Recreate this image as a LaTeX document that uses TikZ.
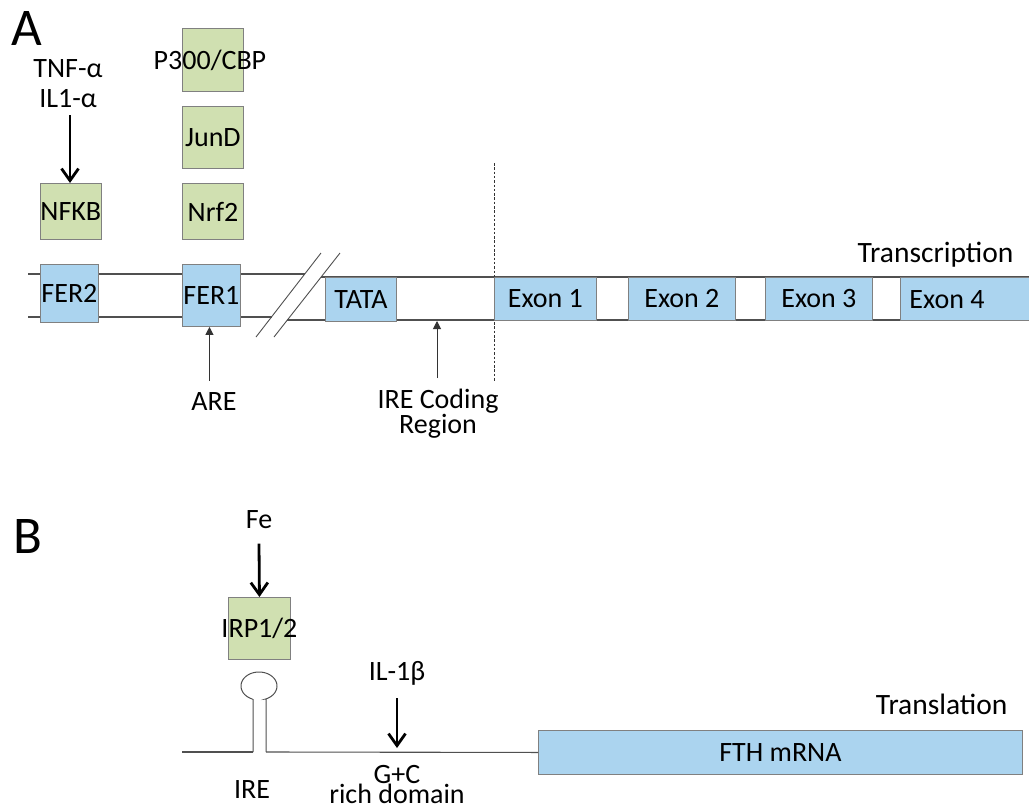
\documentclass[tikz,border=0pt]{standalone}
\usepackage{fontspec}
\setmainfont{Carlito}
\usetikzlibrary{arrows.meta}
\definecolor{boxblue}{HTML}{ABD4EF}
\definecolor{boxgreen}{HTML}{D0E0B1}
\definecolor{edgegray}{HTML}{808080}
\definecolor{linegray}{HTML}{505050}
\begin{document}
\begin{tikzpicture}[x=1pt,y=-1pt,
  every node/.style={font=\fontsize{28}{30}\selectfont, text=black},
  bluebox/.style={draw=edgegray, fill=boxblue, line width=0.9pt, inner sep=0pt, anchor=north west},
  greenbox/.style={draw=edgegray, fill=boxgreen, line width=0.9pt, inner sep=0pt, anchor=north west},
  strand/.style={draw=linegray, line width=1.1pt},
  bigarrow/.style={draw=black, line width=2.8pt, -{Straight Barb[length=12pt,width=17pt]}},
  thinarrow/.style={draw=black!80, line width=1pt, -{Triangle[length=8pt,width=8pt]}},
  panel/.style={font=\fontsize{53}{53}\selectfont, anchor=base west, inner sep=0pt},
  sidelabel/.style={font=\fontsize{29.5}{30}\selectfont, anchor=base east}
]
\clip (0,0) rectangle (1029,807);
\fill[white] (0,0) rectangle (1029,807);

% ---------------- Panel A ----------------
\node[panel] (A) at (11,45) {A};

% strands (left part)
\coordinate (l1s) at (28,274);
\coordinate (l1e) at (305,274);
\coordinate (l2s) at (28,317);
\coordinate (l2e) at (271.5,317);
\draw[strand] (l1s) -- (l1e);
\draw[strand] (l2s) -- (l2e);
% break marks
\coordinate (s1a) at (256,337);
\coordinate (s1b) at (321,253);
\coordinate (s2a) at (274,337);
\coordinate (s2b) at (340,253);
\draw[strand, line width=0.9pt] (s1a) -- (s1b);
\draw[strand, line width=0.9pt] (s2a) -- (s2b);
% strands (right part)
\coordinate (r1s) at (321,277);
\coordinate (r1e) at (1035,277);
\coordinate (r2s) at (287,320);
\coordinate (r2e) at (1035,320);
\draw[strand] (r1s) -- (r1e);
\draw[strand] (r2s) -- (r2e);

% dashed separator
\coordinate (d1) at (494,163);
\coordinate (d2) at (494,382);
\draw[black!80, line width=0.9pt, dash pattern=on 2.5pt off 1.8pt] (d1) -- (d2);

% boxes
\node[greenbox, minimum width=61pt, minimum height=63pt] (p300) at (182,28) {\makebox[0pt]{P300/CBP\hspace{6pt}}};
\node[greenbox, minimum width=61pt, minimum height=62pt] (jund) at (182,106) {JunD};
\node[greenbox, minimum width=61pt, minimum height=56pt] (nrf2) at (182,183) {Nrf2};
\node[greenbox, minimum width=59pt, minimum height=56pt] (nfkb) at (40,183) {NFKB};
\node[bluebox, minimum width=58pt, minimum height=58pt] (fer2) at (40,264) {FER2};
\node[bluebox, minimum width=58pt, minimum height=62pt] (fer1) at (182,264) {FER1};
\node[bluebox, minimum width=71pt, minimum height=44pt] (tata) at (325,277) {TATA};
\node[bluebox, minimum width=102pt, minimum height=43pt] (ex1) at (494,277) {Exon 1\hspace{6pt}};
\node[bluebox, minimum width=107pt, minimum height=43pt] (ex2) at (628,277) {Exon 2\hspace{12pt}};
\node[bluebox, minimum width=107pt, minimum height=43pt] (ex3) at (765,277) {Exon 3\hspace{13pt}};
\node[bluebox, minimum width=140pt, minimum height=43pt] (ex4) at (900,277) {};
\node[anchor=base] (ex4t) at (947,308) {Exon 4};

\node[sidelabel] (transc) at (1017,262) {Transcription};

% inducers
\node[align=center, inner sep=1pt] (tnf) at (68,84) {TNF-α\\IL1-α};
\draw[bigarrow] (tnf.south) ++(2,6) coordinate (tnfa) -- (nfkb.north -| tnfa);

\node[anchor=base] (are) at (214,410) {ARE};
\draw[thinarrow] (are.north -| fer1.south) ++(-2,-8) coordinate (area) -- (fer1.south -| area);

\node[align=center, anchor=north, inner sep=0pt, font=\fontsize{28}{23}\selectfont] (irec) at (438,389) {IRE Coding\\Region};
\coordinate (ireline) at (437,321);
\draw[thinarrow] (irec.north) ++(-1,-11) -- (ireline);

% ---------------- Panel B ----------------
\node[panel] (B) at (13,553) {B};

\node[anchor=base] (fe) at (259,528) {Fe};
\node[greenbox, minimum width=62pt, minimum height=62pt] (irp) at (228,597) {\makebox[0pt]{IRP1/2}};
\draw[bigarrow] (fe.south) ++(0,12) -- (irp.north);

% stem loop and mRNA line
\coordinate (m0) at (182,752);
\coordinate (stl) at (253,752);
\coordinate (str) at (266,752);
\draw[strand] (m0) -- (stl);
\draw[strand, line width=1pt] (stl) -- (253,699)
  plot[domain=248.8:-68.8, samples=80] ({259+18*cos(\x)},{686-14*sin(\x)})
  -- (266,699) -- (str);

\node[bluebox, minimum width=484pt, minimum height=44pt] (fth) at (538,730) {FTH mRNA};
\draw[strand] (str) -- (fth.west);

\node[sidelabel] (transl) at (1011,714) {Translation};

\node[anchor=base] (il1b) at (397,680) {IL-1β};
\coordinate (gc) at (397,748);
\draw[bigarrow] (il1b.south) ++(0,10) -- (gc);

\node[anchor=base] (ire) at (252,798) {IRE};
\node[align=center, anchor=north, inner sep=0pt, font=\fontsize{28}{20}\selectfont] (gcrich) at (397,765) {G+C\\rich domain};
\end{tikzpicture}
\end{document}
